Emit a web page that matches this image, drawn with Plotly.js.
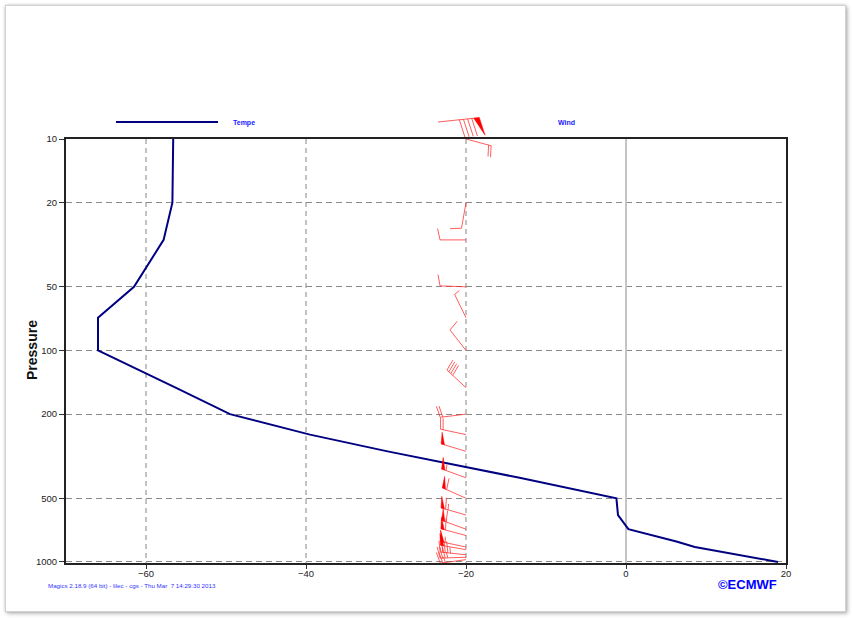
<!DOCTYPE html>
<html><head><meta charset="utf-8">
<script src="https://cdn.plot.ly/plotly-3.0.1.min.js"></script>
<style>
html,body{margin:0;padding:0;background:#fff;}
#wrap{position:relative;width:852px;height:618px;overflow:hidden;}
#chart{position:absolute;left:0;top:0;width:852px;height:618px;}
#frame{position:absolute;left:5px;top:5px;width:839px;height:605px;border:1px solid #d2d2d2;box-shadow:0 0 3px rgba(0,0,0,0.22),2px 2px 4px rgba(0,0,0,0.22);pointer-events:none;}
</style></head><body>
<div id="wrap"><div id="chart"></div><div id="frame"></div></div>
<script>
// ---------------- data ----------------
const tempPressure = [10, 20, 30, 50, 70, 100, 150, 200, 250, 300, 400, 500, 600, 700, 800, 850, 1000];
const tempValues   = [-56.6, -56.7, -57.8, -61.5, -66.0, -66.0, -56.3, -49.5, -39.5, -29.8, -13.3, -1.2, -1.0, 0.3, 6.3, 8.6, 19.0];

const windPressure  = [10, 20, 30, 50, 70, 100, 150, 200, 250, 300, 400, 500, 600, 700, 750, 850, 875, 925, 950, 975];
const windDirection = [105, 190, 270, 272, 334, 322, 313, 263, 282, 287, 290, 294, 286, 290, 285, 282, 280, 276, 268, 262];
const windSpeed     = [20, 10, 10, 10, 5, 10, 40, 20, 20, 50, 55, 60, 65, 60, 60, 55, 50, 45, 35, 25];
const windColumnX = -20;

const xTickValues = [-60, -40, -20, 0, 20];
const yTickValues = [10, 20, 50, 100, 200, 500, 1000];
const yTickText   = ['10', '20', '50', '100', '200', '500', '1000'];

const legendBarbSpeed = 90;
const legendBarbDirection = 84;

// ---------------- layout geometry ----------------
const W = 852, H = 618;
const M = {l: 66, r: 66, t: 105, b: 55, pad: 0};
const plotW = W - M.l - M.r;
const plotH = H - M.t - M.b;
const mainTopPx = 139;
const mainDomainTop = (H - M.b - mainTopPx) / plotH;
const legDomainBottom = 0.93;
const xRange = [-70, 20];
const yRangeLog = [3.005, 1];
const kx = plotW / (xRange[1] - xRange[0]);
const ky = plotH * mainDomainTop / (yRangeLog[0] - yRangeLog[1]);
// legend subplot in pixel units
const legTopPx = M.t, legBottomPx = H - M.b - legDomainBottom * plotH;
const legAnchor = {x: 438, y: 122};

// ---------------- barb geometry (pixel offsets, y down) ----------------
function barb(speed, dirDeg, scale) {
  const L = 26 * scale, F = 11.5 * scale, HF = 6 * scale, S = 2.6 * scale, PW = 3.5 * scale;
  const ang = 78 * Math.PI / 180, d = dirDeg * Math.PI / 180;
  const u = [Math.sin(d), -Math.cos(d)];
  const f = [u[0] * Math.cos(ang) - u[1] * Math.sin(ang), u[0] * Math.sin(ang) + u[1] * Math.cos(ang)];
  const lines = [], tris = [];
  lines.push([[0, 0], [u[0] * L, u[1] * L]]);
  let v = Math.round(speed / 5) * 5;
  const nP = Math.floor(v / 50); v -= nP * 50;
  const nF = Math.floor(v / 10); v -= nF * 10;
  const nH = v >= 5 ? 1 : 0;
  let pos = L;
  for (let i = 0; i < nP; i++) {
    const a = [u[0] * pos, u[1] * pos];
    const b = [u[0] * (pos - PW), u[1] * (pos - PW)];
    const tip = [a[0] + f[0] * F, a[1] + f[1] * F];
    tris.push([a, tip, b]);
    pos -= PW + S * 0.5;
  }
  for (let i = 0; i < nF; i++) {
    const a = [u[0] * pos, u[1] * pos];
    lines.push([a, [a[0] + f[0] * F, a[1] + f[1] * F]]);
    pos -= S;
  }
  if (nH) {
    const a = [u[0] * pos, u[1] * pos];
    lines.push([a, [a[0] + f[0] * HF, a[1] + f[1] * HF]]);
  }
  return {lines, tris};
}

function pushPolys(polys, toXY, xs, ys, close) {
  polys.forEach(poly => {
    poly.forEach(pt => { const q = toXY(pt); xs.push(q[0]); ys.push(q[1]); });
    if (close) { const q = toXY(poly[0]); xs.push(q[0]); ys.push(q[1]); }
    xs.push(null); ys.push(null);
  });
}

// wind barbs on main axes
const wLx = [], wLy = [], wTx = [], wTy = [];
windPressure.forEach((p, i) => {
  const b = barb(windSpeed[i], windDirection[i], 1);
  const toXY = pt => [windColumnX + pt[0] / kx, Math.pow(10, Math.log10(p) + pt[1] / ky)];
  pushPolys(b.lines, toXY, wLx, wLy, false);
  pushPolys(b.tris, toXY, wTx, wTy, true);
});
// legend barb on legend axes (pixel units)
const lLx = [], lLy = [], lTx = [], lTy = [];
(function () {
  const b = barb(legendBarbSpeed, legendBarbDirection, 1.6);
  const toXY = pt => [legAnchor.x + pt[0], legAnchor.y + pt[1]];
  pushPolys(b.lines, toXY, lLx, lLy, false);
  pushPolys(b.tris, toXY, lTx, lTy, true);
})();

const RED = '#ff0000';
const RED_LINE = 'rgba(255,30,30,0.8)';
const FONT = 'Liberation Sans, Arial, sans-serif';

const traces = [
  {x: tempValues, y: tempPressure, type: 'scatter', mode: 'lines', xaxis: 'x', yaxis: 'y',
   line: {color: '#000080', width: 2}, hoverinfo: 'skip'},
  {x: wLx, y: wLy, type: 'scatter', mode: 'lines', xaxis: 'x', yaxis: 'y',
   line: {color: RED_LINE, width: 0.9}, connectgaps: false, hoverinfo: 'skip'},
  {x: wTx, y: wTy, type: 'scatter', mode: 'lines', xaxis: 'x', yaxis: 'y', fill: 'toself',
   fillcolor: RED, line: {color: RED, width: 0.5}, connectgaps: false, hoverinfo: 'skip'},
  {x: lLx, y: lLy, type: 'scatter', mode: 'lines', xaxis: 'x2', yaxis: 'y2',
   line: {color: RED_LINE, width: 0.9}, connectgaps: false, hoverinfo: 'skip'},
  {x: lTx, y: lTy, type: 'scatter', mode: 'lines', xaxis: 'x2', yaxis: 'y2', fill: 'toself',
   fillcolor: RED, line: {color: RED, width: 0.5}, connectgaps: false, hoverinfo: 'skip'}
];

const layout = {
  width: W, height: H, margin: M,
  paper_bgcolor: '#ffffff', plot_bgcolor: '#ffffff',
  showlegend: false,
  font: {family: FONT, size: 9.5, color: '#222'},
  xaxis: {
    domain: [0, 1], anchor: 'y', range: xRange, autorange: false,
    tickvals: xTickValues, ticks: 'outside', ticklen: 4, tickwidth: 1, tickcolor: '#333',
    ticklabelstandoff: -3,
    showline: true, mirror: true, linecolor: '#222', linewidth: 2,
    showgrid: true, gridcolor: '#c2c2c2', gridwidth: 1.5, griddash: '5px,4px',
    zeroline: true, zerolinecolor: '#c4c4c4', zerolinewidth: 2,
    tickfont: {family: FONT, size: 9.5, color: '#222'}, fixedrange: true
  },
  yaxis: {
    domain: [0, mainDomainTop], anchor: 'x', type: 'log', range: yRangeLog, autorange: false,
    tickvals: yTickValues, ticktext: yTickText, ticks: 'outside', ticklen: 5, tickwidth: 1, tickcolor: '#333',
    showline: true, mirror: true, linecolor: '#222', linewidth: 2,
    showgrid: true, gridcolor: '#8a8a8a', gridwidth: 1, griddash: '6px,4px',
    zeroline: false, tickfont: {family: FONT, size: 9.5, color: '#222'}, fixedrange: true
  },
  xaxis2: {domain: [0, 1], anchor: 'y2', range: [M.l, W - M.r], autorange: false, visible: false, fixedrange: true},
  yaxis2: {domain: [legDomainBottom, 1], anchor: 'x2', range: [legBottomPx, legTopPx], autorange: false, visible: false, fixedrange: true},
  shapes: [
    {type: 'line', xref: 'x2', yref: 'y2', x0: 116, x1: 218, y0: 122, y1: 122, line: {color: '#000080', width: 2}}
  ],
  annotations: [
    {text: '<b>Tempe</b>', xref: 'x2', yref: 'y2', x: 231, y: 122.5, xanchor: 'left', yanchor: 'middle', showarrow: false,
     font: {family: FONT, size: 7, color: '#1a1aff'}},
    {text: '<b>Wind</b>', xref: 'x2', yref: 'y2', x: 556, y: 122.5, xanchor: 'left', yanchor: 'middle', showarrow: false,
     font: {family: FONT, size: 7, color: '#1a1aff'}},
    {text: '<b>Pressure</b>', xref: 'paper', yref: 'paper', x: (32 - M.l) / plotW, y: (H - M.b - 350) / plotH,
     xanchor: 'center', yanchor: 'middle', textangle: -90, showarrow: false,
     font: {family: FONT, size: 14, color: '#111'}},
    {text: 'Magics 2.18.9 (64 bit) - lilec - cgs - Thu Mar \u00a07 14:29:30 2013', xref: 'paper', yref: 'paper',
     x: (46 - M.l) / plotW, y: (H - M.b - 585) / plotH, xanchor: 'left', yanchor: 'middle', showarrow: false,
     font: {family: FONT, size: 6.2, color: '#3333ff'}},
    {text: '<b>©ECMWF</b>', xref: 'paper', yref: 'paper', x: (747 - M.l) / plotW, y: (H - M.b - 584) / plotH,
     xanchor: 'center', yanchor: 'middle', showarrow: false,
     font: {family: FONT, size: 13, color: '#0000ff'}}
  ]
};

Plotly.newPlot('chart', traces, layout, {displayModeBar: false, staticPlot: true});
</script>
</body></html>
